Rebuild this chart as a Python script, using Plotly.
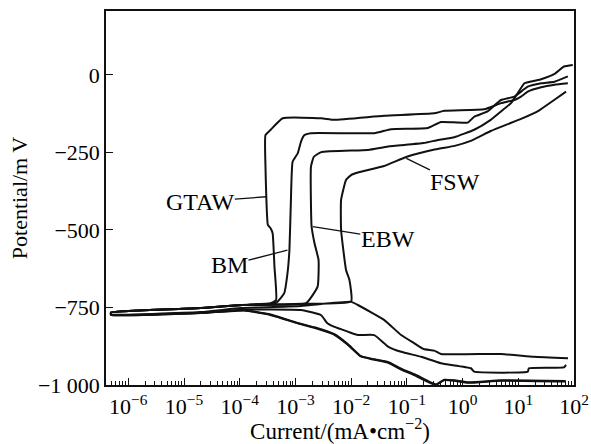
import plotly.graph_objects as go
import math

# ---- data (current in mA/cm^2, potential in mV) ----
gtaw_cath_i = [72, 4.9, 1.26, 0.71, 0.47, 0.33, 0.24, 0.135, 0.079, 0.045, 0.025, 0.015, 0.0087, 0.005, 0.0021, 0.0011, 3.2e-4, 1.2e-4, 2.0e-5, 4.9e-7]
gtaw_cath_E = [-989, -986, -993, -986, -984, -1000, -990, -968, -950, -928, -918, -908, -870, -838, -815, -801, -772, -760, -768, -774]
gtaw_anod_i = [4.9e-7, 2.0e-5, 1.1e-4, 3.6e-4, 4.5e-4, 4.2e-4, 3.9e-4, 3.6e-4, 3.2e-4, 3.0e-4, 2.9e-4, 2.9e-4, 3.6e-4, 5.9e-4, 2.9e-3, 4.9e-3, 0.039, 0.31, 0.47, 2.45, 4.9, 8.5, 11.2, 14.8, 25.7, 44.7, 77.6]
gtaw_anod_E = [-766, -752, -742, -736, -726, -618, -511, -495, -484, -393, -296, -194, -177, -140, -140, -145, -132, -124, -116, -111, -91, -81, -70, -54, -40, -32, -27]

bm_cath_i = [70, 5.0, 1.3, 0.72, 0.47, 0.34, 0.25, 0.14, 0.08, 0.046, 0.026, 0.015, 0.0088, 0.0051, 0.0022, 0.0011, 3.3e-4, 1.2e-4, 2.0e-5, 4.9e-7]
bm_cath_E = [-987, -985, -991, -985, -983, -998, -989, -966, -948, -926, -917, -907, -869, -837, -814, -800, -771, -759, -767, -773]
bm_anod_i = [4.9e-7, 2.0e-5, 1.1e-4, 4.0e-4, 4.8e-4, 6.3e-4, 7.2e-4, 7.8e-4, 8.3e-4, 8.9e-4, 0.0011, 0.00126, 0.00145, 0.0019, 0.026, 0.052, 0.24, 0.41, 1.23, 1.62, 2.8, 4.9, 8.5, 14.8, 25.7, 44.7, 77.6]
bm_anod_E = [-766, -752, -742, -737, -731, -704, -640, -565, -403, -280, -253, -215, -194, -188, -188, -175, -171, -152, -154, -135, -118, -81, -70, -38, -27, -22, -5]

ebw_cath_i = [72, 66, 15.5, 14.8, 1.62, 1.41, 0.41, 0.18, 0.079, 0.046, 0.026, 0.0132, 0.0087, 0.0049, 0.0037, 0.0029, 0.00126, 1.05e-4, 2.0e-5, 4.9e-7]
ebw_cath_E = [-935, -943, -946, -957, -957, -946, -930, -909, -893, -876, -839, -839, -828, -812, -800, -775, -758, -757, -768, -774]
ebw_anod_i = [4.9e-7, 2.0e-5, 1.1e-4, 0.00155, 0.0025, 0.0026, 0.0022, 0.00195, 0.0019, 0.00214, 0.0029, 0.020, 0.046, 0.20, 0.36, 0.71, 1.62, 3.2, 4.9, 7.4, 9.8, 12.9, 25.7, 44.7, 66, 95]
ebw_anod_E = [-766, -752, -742, -736, -683, -597, -543, -489, -296, -264, -249, -242, -231, -220, -210, -201, -177, -145, -118, -91, -59, -27, -14, 3, 27, 32]

fsw_cath_i = [78, 19, 4.9, 0.41, 0.31, 0.20, 0.135, 0.079, 0.039, 0.0132, 0.010, 0.00126, 1.05e-4, 2.0e-5, 4.9e-7]
fsw_cath_E = [-914, -909, -900, -900, -889, -884, -865, -839, -790, -742, -732, -745, -752, -765, -772]
fsw_anod_i = [4.9e-7, 2.0e-5, 1.1e-4, 0.0013, 0.010, 0.0093, 0.0081, 0.0066, 0.0066, 0.0081, 0.010, 0.0132, 0.039, 0.10, 0.33, 0.72, 1.4, 3.2, 6.0, 11.2, 23, 44, 72]
fsw_anod_E = [-766, -752, -742, -738, -731, -661, -629, -500, -403, -339, -323, -315, -294, -264, -240, -229, -213, -181, -161, -142, -116, -81, -54]

# label name, anchor point on curve (current, potential), text offset in px
labels = ["GTAW", "BM", "EBW", "FSW"]
label_i = [3.0e-4, 7.2e-4, 2.05e-3, 0.098]
label_E = [-393, -565, -489, -269]
label_dx = [-66, -58, 75, 49]
label_dy = [5, 15, 12, 24]

x_tick_vals = [1e-6, 1e-5, 1e-4, 1e-3, 1e-2, 1e-1, 1e0, 1e1, 1e2]
x_tick_text = ["10<sup>−6</sup>", "10<sup>−5</sup>", "10<sup>−4</sup>", "10<sup>−3</sup>",
               "10<sup>−2</sup>", "10<sup>−1</sup>", "10<sup>0</sup>", "10<sup>1</sup>", "10<sup>2</sup>"]
y_tick_vals = [0, -250, -500, -750, -1000]
y_tick_text = ["0", "−250", "−500", "−750", "−1 000"]

FONT = "Liberation Serif, Times New Roman, serif"
LC = "#111111"

fig = go.Figure()
samples = [
    (gtaw_cath_i, gtaw_cath_E, gtaw_anod_i, gtaw_anod_E),
    (bm_cath_i, bm_cath_E, bm_anod_i, bm_anod_E),
    (ebw_cath_i, ebw_cath_E, ebw_anod_i, ebw_anod_E),
    (fsw_cath_i, fsw_cath_E, fsw_anod_i, fsw_anod_E),
]
for name, (ci, cE, ai, aE) in zip(labels, samples):
    fig.add_trace(go.Scatter(x=ci + ai, y=cE + aE, mode="lines", name=name,
                             line=dict(color=LC, width=2, shape="spline", smoothing=0.4),
                             showlegend=False, hoverinfo="skip"))

for t, xi, yE, dx, dy in zip(labels, label_i, label_E, label_dx, label_dy):
    fig.add_annotation(x=math.log10(xi), y=yE, xref="x", yref="y", text=t,
                       showarrow=True, arrowhead=0, arrowwidth=1.3, arrowcolor=LC,
                       ax=dx, ay=dy, axref="pixel", ayref="pixel", borderpad=0,
                       font=dict(family=FONT, size=24, color="black"))

fig.update_layout(
    width=591, height=444,
    margin=dict(l=106, r=17, t=11, b=59, autoexpand=False),
    paper_bgcolor="white", plot_bgcolor="white",
    font=dict(family=FONT, size=21, color="black"),
    xaxis=dict(type="log", range=[-6.4, 2], tickmode="array", tickvals=x_tick_vals, ticktext=x_tick_text,
               ticks="inside", ticklen=7, tickwidth=1.3, tickcolor=LC,
               minor=dict(ticks="inside", ticklen=4, tickwidth=1, tickcolor=LC, dtick="D1", showgrid=False),
               showline=True, linecolor=LC, linewidth=1.5, mirror=True, showgrid=False, zeroline=False,
               automargin=False, ticklabelstandoff=1,
               title=dict(text="Current/(mA•cm<sup>−2</sup>)", standoff=0, font=dict(size=23)),
               tickfont=dict(size=22)),
    yaxis=dict(range=[-1000, 206], tickmode="array", tickvals=y_tick_vals, ticktext=y_tick_text,
               ticks="inside", ticklen=7, tickwidth=1.3, tickcolor=LC,
               showline=True, linecolor=LC, linewidth=1.5, mirror=True, showgrid=False, zeroline=False,
               automargin=False, ticklabelstandoff=0,
               title=dict(text="Potential/m V", standoff=4, font=dict(size=22)),
               tickfont=dict(size=22)),
)

fig.write_html("out.html", config={"displayModeBar": False},
               post_script="document.body.style.margin='0';document.body.style.padding='0';")
